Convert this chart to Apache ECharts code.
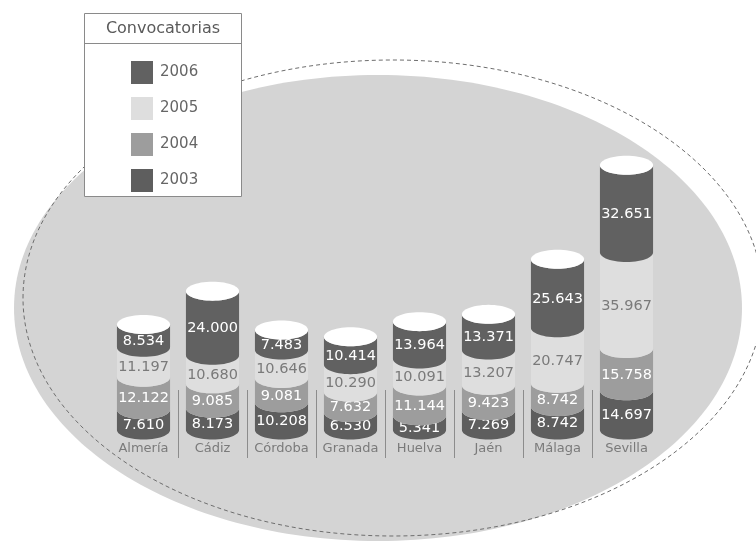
<!DOCTYPE html>
<html>
<head>
<meta charset="utf-8">
<script src="https://cdn.jsdelivr.net/npm/echarts@6/dist/echarts.min.js"></script>
<style>
html,body{margin:0;padding:0;background:#fff;}
#chart{width:756px;height:543px;}
</style>
</head>
<body>
<div id="chart"></div>
<script>
const categories = ['Almería', 'Cádiz', 'Córdoba', 'Granada', 'Huelva', 'Jaén', 'Málaga', 'Sevilla'];
const years = ['2003', '2004', '2005', '2006'];
const v2003 = [7610, 8173, 10208, 6530, 5341, 7269, 8742, 14697];
const v2004 = [12122, 9085, 9081, 7632, 11144, 9423, 8742, 15758];
const v2005 = [11197, 10680, 10646, 10290, 10091, 13207, 20747, 35967];
const v2006 = [8534, 24000, 7483, 10414, 13964, 13371, 25643, 32651];
const legendTitle = 'Convocatorias';

const yearValues = [v2003, v2004, v2005, v2006];
const yearColors = ['#5e5e5e', '#9d9d9d', '#dedede', '#616161'];
const labelColors = ['#ffffff', '#ffffff', '#7a7a7a', '#ffffff'];
const FONT = '"DejaVu Sans", sans-serif';
const RY = 9.5;
const BAR_RATIO = 0.77;

function fmt(v) {
  return String(v).replace(/\B(?=(\d{3})+(?!\d))/g, '.');
}

function arcPts(cx, cy, rx, ry, leftToRight) {
  const pts = [];
  const N = 28;
  for (let i = 0; i <= N; i++) {
    const a = Math.PI * (1 - i / N);
    pts.push([cx + rx * Math.cos(a), cy + ry * Math.sin(a)]);
  }
  return leftToRight ? pts : pts.reverse();
}

// build stacked data [catIndex, base, top, value]
const stacked = yearValues.map(() => []);
const totals = categories.map(() => 0);
yearValues.forEach((arr, yi) => {
  arr.forEach((v, ci) => {
    stacked[yi].push([ci, totals[ci], totals[ci] + v, v]);
    totals[ci] += v;
  });
});

function makeSegRender(yi) {
  return function (params, api) {
    const ci = api.value(0);
    const b = api.coord([ci, api.value(1)]);
    const t = api.coord([ci, api.value(2)]);
    const bw = api.size([1, 0])[0] * BAR_RATIO;
    const rx = bw / 2;
    const cx = b[0];
    const pts = arcPts(cx, t[1], rx, RY, true).concat(arcPts(cx, b[1], rx, RY, false));
    return {
      type: 'group',
      children: [
        { type: 'polygon', shape: { points: pts }, style: { fill: api.visual('color') } },
        {
          type: 'text', x: cx, y: (t[1] + b[1]) / 2 + RY * 0.55,
          style: {
            text: fmt(api.value(3)), fill: labelColors[yi], font: '14.5px ' + FONT,
            align: 'center', verticalAlign: 'middle'
          }
        }
      ]
    };
  };
}

const series = years.map((y, yi) => ({
  name: y,
  type: 'custom',
  renderItem: makeSegRender(yi),
  itemStyle: { color: yearColors[yi] },
  encode: { x: 0, y: [1, 2] },
  data: stacked[yi],
  z: 3
}));

// white caps
series.push({
  name: 'cap',
  type: 'custom',
  encode: { x: 0, y: 1 },
  data: totals.map((t, ci) => [ci, t]),
  renderItem: function (params, api) {
    const ci = api.value(0);
    const p = api.coord([ci, api.value(1)]);
    const rx = api.size([1, 0])[0] * BAR_RATIO / 2;
    const pts = arcPts(p[0], p[1], rx, RY, true).concat(arcPts(p[0], p[1], rx, -RY, false));
    return { type: 'polygon', shape: { points: pts }, style: { fill: '#ffffff' } };
  },
  z: 4
});

// separators between categories
series.push({
  name: 'sep',
  type: 'custom',
  encode: { x: 0, y: 1 },
  data: categories.slice(1).map((c, i) => [i + 1, 0]),
  renderItem: function (params, api) {
    const p = api.coord([api.value(0), 0]);
    const band = api.size([1, 0])[0];
    const x = Math.round(p[0] - band / 2) + 0.5;
    return {
      type: 'line',
      shape: { x1: x, y1: p[1] - 40, x2: x, y2: p[1] + 28 },
      style: { stroke: '#8c8c8c', lineWidth: 1 }
    };
  },
  z: 2
});

const chart = echarts.init(document.getElementById('chart'));
chart.setOption({
  animation: false,
  backgroundColor: '#ffffff',
  grid: { left: 109, right: 95, top: 136, bottom: 113 },
  xAxis: {
    type: 'category',
    data: categories,
    axisLine: { show: false },
    axisTick: { show: false },
    axisLabel: { interval: 0, color: '#7a7a7a', fontSize: 13, fontFamily: FONT, margin: 12 }
  },
  yAxis: {
    type: 'value', min: 0, max: 110000, show: false
  },
  legend: {
    data: ['2006', '2005', '2004', '2003'],
    orient: 'vertical',
    left: 126, top: 56,
    icon: 'rect',
    itemWidth: 22, itemHeight: 23, itemGap: 13,
    selectedMode: false,
    textStyle: { color: '#666', fontSize: 15, fontFamily: FONT, padding: [0, 0, 0, 2] },
    z: 10
  },
  graphic: [
    { type: 'ellipse', shape: { cx: 378, cy: 308, rx: 364, ry: 233 }, style: { fill: '#d4d4d4' }, z: 0, silent: true },
    { type: 'ellipse', shape: { cx: 393, cy: 298, rx: 370, ry: 238 }, style: { fill: 'none', stroke: '#6e6e6e', lineWidth: 1, lineDash: [4, 3] }, z: 1, silent: true },
    { type: 'rect', shape: { x: 84.5, y: 13.5, width: 157, height: 183 }, style: { fill: '#ffffff', stroke: '#8a8a8a', lineWidth: 1 }, z: 5 },
    { type: 'line', shape: { x1: 84.5, y1: 43.5, x2: 241.5, y2: 43.5 }, style: { stroke: '#8a8a8a', lineWidth: 1 }, z: 6 },
    { type: 'text', x: 163, y: 29, style: { text: legendTitle, fill: '#5a5a5a', font: '16px ' + FONT, align: 'center', verticalAlign: 'middle' }, z: 6 }
  ],
  series: series
});
</script>
</body>
</html>
